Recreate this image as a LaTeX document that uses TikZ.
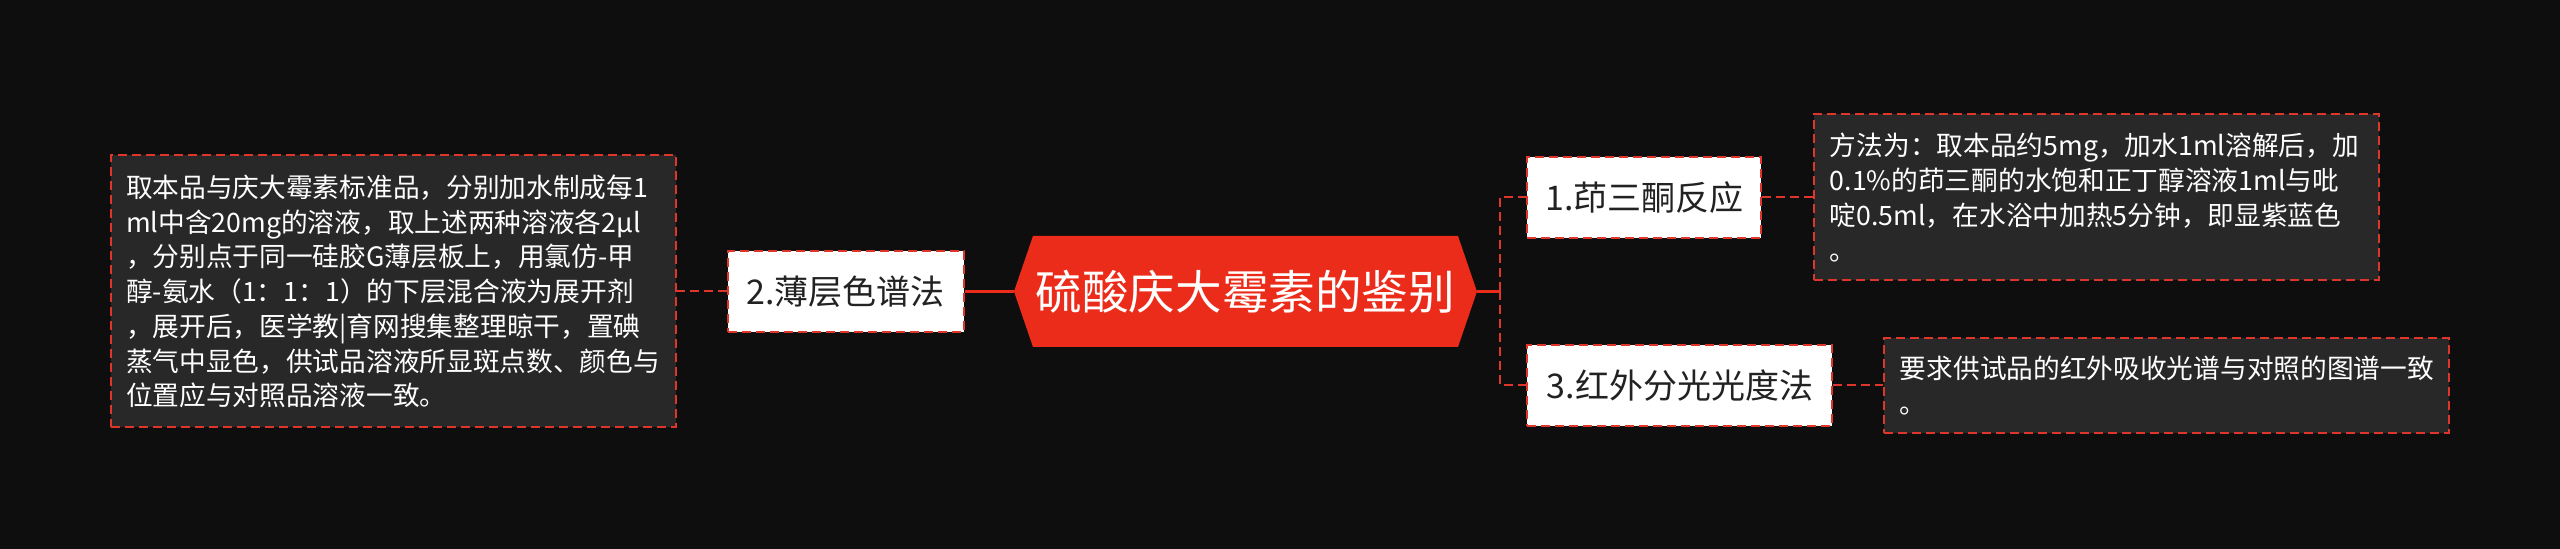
\documentclass[tikz,border=0pt]{standalone}
\usepackage{fontspec}
\setmainfont{Noto Sans CJK SC}
\usepackage{xcolor}
\usetikzlibrary{positioning,calc}
\definecolor{bgblack}  {RGB}{14,14,14}
\definecolor{rootred}  {RGB}{236,44,26}
\definecolor{linered}  {RGB}{222,54,42}
\definecolor{leafgray} {RGB}{40,40,40}
\definecolor{textdark} {RGB}{34,34,34}
\tikzset{
  rootbox/.style ={minimum width=231.5pt, minimum height=55.5pt, inner sep=0pt,
                   text=white, font=\fontsize{23.3}{28}\selectfont,
                   path picture={\fill[rootred]
                     ($(path picture bounding box.north west)+(9.5pt,0)$) --
                     ($(path picture bounding box.north east)+(-9.5pt,0)$) --
                     (path picture bounding box.east) --
                     ($(path picture bounding box.south east)+(-9.5pt,0)$) --
                     ($(path picture bounding box.south west)+(9.5pt,0)$) --
                     (path picture bounding box.west) -- cycle;}},
  redash/.style  ={draw=linered, line width=1pt, dash pattern=on 4.5pt off 2.5pt},
  topicbox/.style={redash, fill=white, minimum width=#1, minimum height=40.5pt,
                   inner sep=0pt, text=textdark, font=\fontsize{17}{20}\selectfont},
  topicbox/.default=118pt,
  leafbox/.style ={redash, fill=leafgray, text width=267pt, align=left,
                   inner xsep=7.75pt, inner ysep=4pt, text=white,
                   font=\fontsize{13.35}{17.35}\selectfont},
  mainline/.style={draw=rootred, line width=1.5pt},
  subline/.style ={redash},
}
\begin{document}
\begin{tikzpicture}
  \path[use as bounding box, fill=bgblack]
       (-622.75pt,145.75pt) rectangle (657.25pt,-128.75pt);

  \node[rootbox] (root) at (0,0) {硫酸庆大霉素的鉴别};

  \node[topicbox=118pt, left=24.5pt of root] (tlc) {2.薄层色谱法};
  \node[leafbox, minimum height=136pt, left=25pt of tlc] (tlcleaf)
        {取本品与庆大霉素标准品，分别加水制成每1\\
         ml中含20mg的溶液，取上述两种溶液各2μl\\
         ，分别点于同一硅胶G薄层板上，用氯仿-甲\\
         醇-氨水（1：1：1）的下层混合液为展开剂\\
         ，展开后，医学教|育网搜集整理晾干，置碘\\
         蒸气中显色，供试品溶液所显斑点数、颜色与\\
         位置应与对照品溶液一致。};

  \node[topicbox=117pt, right=24.5pt of root, yshift=47pt] (nin) {1.茚三酮反应};
  \node[leafbox, minimum height=83pt, right=25.5pt of nin] (ninleaf)
        {方法为：取本品约5mg，加水1ml溶解后，加\\
         0.1\%的茚三酮的水饱和正丁醇溶液1ml与吡\\
         啶0.5ml，在水浴中加热5分钟，即显紫蓝色\\
         。};

  \node[topicbox=152.5pt, right=24.5pt of root, yshift=-47pt] (ir) {3.红外分光光度法};
  \node[leafbox, minimum height=47.5pt, right=25pt of ir] (irleaf)
        {要求供试品的红外吸收光谱与对照的图谱一致\\
         。};

  \coordinate[right=11.5pt of root] (fork);

  \draw[mainline] (root.west) -- (tlc.east);
  \draw[mainline] (root.east) -- (fork);
  \draw[subline] (fork) |- (nin.west);
  \draw[subline] (fork) |- (ir.west);
  \draw[subline] (tlc.west) -- (tlcleaf.east);
  \draw[subline] (nin.east) -- (ninleaf.west);
  \draw[subline] (ir.east) -- (irleaf.west);
\end{tikzpicture}
\end{document}
